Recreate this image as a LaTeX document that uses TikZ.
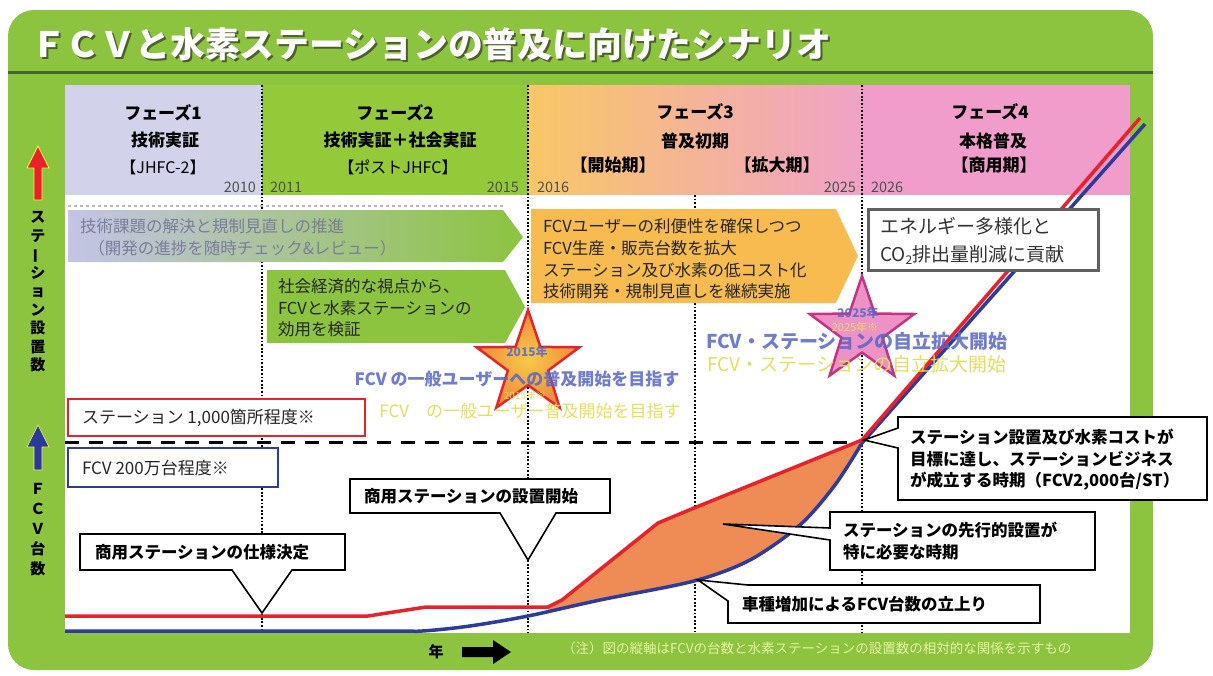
\documentclass[tikz,border=0pt]{standalone}
\usepackage{fontspec}
\usepackage{graphicx}
\setmainfont{Noto Sans CJK JP}
\usetikzlibrary{shapes.geometric}
\definecolor{bggreen}{HTML}{8CC43F}
\definecolor{ph2green}{HTML}{94C93A}
\definecolor{darkgreen}{HTML}{3F6A2C}
\definecolor{titleshadow}{HTML}{4E5E2E}
\definecolor{lav}{HTML}{D2D2EA}
\definecolor{lavarrow}{HTML}{C4C4E6}
\definecolor{ph3a}{HTML}{F8C766}
\definecolor{ph3b}{HTML}{F0A2C8}
\definecolor{ph4}{HTML}{F09DCB}
\definecolor{arrorange}{HTML}{F7BB4F}
\definecolor{redline}{HTML}{E8222B}
\definecolor{blueline}{HTML}{2E3A9C}
\definecolor{fillorange}{HTML}{EF8B55}
\definecolor{starblue}{HTML}{5666C8}
\definecolor{staryellow}{HTML}{E4E05C}
\definecolor{notegreen}{HTML}{E6F3A6}
\definecolor{graytext}{HTML}{7C7C9C}
\definecolor{yeargray}{HTML}{505050}
\definecolor{boxgray}{HTML}{606060}
\definecolor{starred}{HTML}{E3262A}
\definecolor{starin}{HTML}{F7C948}
\definecolor{starout}{HTML}{F08A3A}
\definecolor{starpink}{HTML}{EC92C6}
\definecolor{starmag}{HTML}{C43384}
\definecolor{axisblue}{HTML}{2A3A9A}
\begin{document}
\begin{tikzpicture}[x=1pt,y=-1pt,
  every node/.style={inner sep=0pt,outer sep=0pt},
  dotv/.style={black,line width=1.8pt,dash pattern=on 1.8pt off 1.8pt},
  callout/.style={draw=black,line width=1.6pt,fill=white,line join=miter},
  ctext/.style={font=\fontsize{16.5}{21.5}\selectfont\bfseries,align=left,anchor=west},
  phtext/.style={font=\fontsize{17}{20}\selectfont\bfseries},
  yeartext/.style={font=\fontsize{14.5}{16}\selectfont,text=yeargray},
  arrtext/.style={font=\fontsize{16.5}{21.6}\selectfont,align=left,anchor=west},
  vlabel/.style={font=\fontsize{15}{18.5}\selectfont\bfseries,align=center},
  bluestar/.style={font=\fontsize{17}{20}\selectfont\bfseries,text=starblue,text opacity=0.85},
  yellowstar/.style={font=\fontsize{17}{20}\selectfont,text=staryellow},
  curve/.style={line width=3.5pt,line join=round},
]
\useasboundingbox (0,0) rectangle (1213,675);
\fill[white] (0,0) rectangle (1213,675);
% green frame
\fill[bggreen,rounded corners=26pt] (8,10) rectangle (1153,670);
\draw[darkgreen,line width=3pt] (8,72) -- (1153,72);
% title
\node[anchor=west,text=titleshadow] (titlesh) at (33,46) {\resizebox{800pt}{!}{\fontsize{33}{33}\selectfont\bfseries ＦＣＶと水素ステーションの普及に向けたシナリオ}};
\node[anchor=west,text=white] (title) at (31,44) {\resizebox{800pt}{!}{\fontsize{33}{33}\selectfont\bfseries ＦＣＶと水素ステーションの普及に向けたシナリオ}};
% header band
\fill[lav] (65,85) rectangle (262,195);
\fill[ph2green] (262,85) rectangle (528,195);
\shade[left color=ph3a,right color=ph3b] (528,85) rectangle (862,195);
\fill[ph4] (862,85) rectangle (1130,195);
\fill[white] (65,195) rectangle (1130,633);
% phase texts
\node[phtext] (p1a) at (163,113) {フェーズ1};
\node[phtext] (p1b) at (165,140) {技術実証};
\node[phtext,font=\fontsize{16}{18}\selectfont] (p1c) at (163,167) {【JHFC-2】};
\node[phtext] (p2a) at (395,113) {フェーズ2};
\node[phtext] (p2b) at (400,140) {技術実証＋社会実証};
\node[phtext,font=\fontsize{16}{18}\selectfont] (p2c) at (398,167) {【ポストJHFC】};
\node[phtext] (p3a) at (695,112) {フェーズ3};
\node[phtext] (p3b) at (695,141) {普及初期};
\node[phtext] (p3c) at (613,165) {【開始期】};
\node[phtext] (p3d) at (777,165) {【拡大期】};
\node[phtext] (p4a) at (990,112) {フェーズ4};
\node[phtext] (p4b) at (993,141) {本格普及};
\node[phtext] (p4c) at (994,165) {【商用期】};
% years
\node[yeartext,anchor=east] (y2010) at (256,187) {2010};
\node[yeartext,anchor=west] (y2011) at (270,187) {2011};
\node[yeartext,anchor=east] (y2015) at (519,187) {2015};
\node[yeartext,anchor=west] (y2016) at (537,187) {2016};
\node[yeartext,anchor=east] (y2025) at (856,187) {2025};
\node[yeartext,anchor=west] (y2026) at (871,187) {2026};
% dotted verticals
\draw[dotv] (262,85) -- (262,633);
\draw[dotv] (528,85) -- (528,633);
\draw[dotv] (862,85) -- (862,633);
\draw[dotv] (695,195) -- (695,633);
% arrow 1
\draw[gray!55,dashed,line width=1.2pt] (68,206) -- (505,206);
\shade[left color=lavarrow,right color=bggreen] (68,210) -- (503,210) -- (523,237) -- (503,262) -- (68,262) -- cycle;
\node[arrtext,text=graytext] (a1) at (80,237.5) {技術課題の解決と規制見直しの推進\\\hspace{0.5em}（開発の進捗を随時チェック\&レビュー）};
% arrow 2
\fill[bggreen] (267,270) -- (505,270) -- (525,307) -- (505,343) -- (267,343) -- cycle;
\node[arrtext,text=black!85] (a2) at (278,308) {社会経済的な視点から、\\FCVと水素ステーションの\\効用を検証};
% arrow 3
\fill[arrorange] (531,209) -- (836,209) -- (858,256) -- (836,303) -- (531,303) -- cycle;
\node[arrtext,text=black!85] (a3) at (543,259) {FCVユーザーの利便性を確保しつつ\\FCV生産・販売台数を拡大\\ステーション及び水素の低コスト化\\技術開発・規制見直しを継続実施};
% stars
\node[star,star points=5,star point ratio=2.55,minimum size=108pt,inner color=starin,outer color=starout,draw=starred,line width=2.5pt] (star1) at (528,364) {};
\node[star,star points=5,star point ratio=2.55,minimum size=110pt,fill=starpink,draw=starmag,line width=2.5pt] (star2) at (862,331) {};
\node[bluestar,font=\fontsize{12}{14}\selectfont\bfseries] (s1yr) at (527,352) {2015年};
\node[bluestar] (s1txt) at (517,379) {FCV の一般ユーザーへの普及開始を目指す};
\node[yellowstar,font=\fontsize{10}{11}\selectfont] (s1yr2) at (525,396) {2015年※};
\node[yellowstar] (s1txt2) at (530,411) {FCV\quad の一般ユーザー普及開始を目指す};
\node[bluestar,font=\fontsize{12}{14}\selectfont\bfseries] (s2yr) at (858,313) {2025年};
\node[yellowstar,font=\fontsize{11}{12}\selectfont] (s2yr2) at (855,327) {2025年※};
% left limit boxes and dashed level
\draw[black,line width=3pt,dash pattern=on 14pt off 10pt] (65,442) -- (862,442);
\draw[redline,line width=2pt,fill=white] (68,399) rectangle (365,436);
\node[anchor=west,font=\fontsize{17}{20}\selectfont,text=black!85] (l1) at (82,418) {ステーション 1,000箇所程度※};
\draw[blueline,line width=1.6pt,fill=white] (68,448) rectangle (278,487);
\node[anchor=west,font=\fontsize{17}{20}\selectfont,text=black!85] (l2) at (82,468) {FCV 200万台程度※};
% curves
\fill[fillorange] (548,608) -- (562,600) -- (658,523) -- (694,508) -- (862,440) -- plot[smooth] coordinates {(862,443) (835,485) (800,525) (750,560) (694,581) (600,600) (548,612)} -- cycle;
\draw[blueline,curve] plot[smooth] coordinates {(65,631) (380,631) (422,631) (470,626) (528,616) (600,600) (694,581) (750,560) (800,525) (835,485) (862,443)} -- (1145,124);
\draw[redline,curve] (65,616) -- (368,616) -- (426,607) -- (548,607) -- (562,600) -- (658,523) -- (694,508) -- (862,440) -- (1140,118);
\node[bluestar,font=\fontsize{19}{22}\selectfont\bfseries] (s2txt) at (857,341) {FCV・ステーションの自立拡大開始};
\node[yellowstar,font=\fontsize{19}{22}\selectfont] (s2txt2) at (857,364) {FCV・ステーションの自立拡大開始};
% box 4 (above the curves)
\draw[boxgray,line width=3pt,fill=white] (868,209) rectangle (1098,270);
\node[arrtext,font=\fontsize{19}{28}\selectfont,text=black!80] (b4) at (880,241) {エネルギー多様化と\\CO\raisebox{-0.35ex}{\fontsize{12}{12}\selectfont 2}排出量削減に貢献};
% callouts
\draw[callout] (80,534) -- (345,534) -- (345,570) -- (292,570) -- (262,613) -- (232,570) -- (80,570) -- cycle;
\node[ctext] (c1) at (95,552) {商用ステーションの仕様決定};
\draw[callout] (350,479) -- (610,479) -- (610,513) -- (556,513) -- (528,560) -- (500,513) -- (350,513) -- cycle;
\node[ctext] (c2) at (364,496) {商用ステーションの設置開始};
\draw[callout] (830,512) -- (1095,512) -- (1095,570) -- (830,570) -- (830,540) -- (723,524) -- (830,528) -- cycle;
\node[ctext] (c3) at (843,541) {ステーションの先行的設置が\\特に必要な時期};
\draw[callout] (748,585) -- (1040,585) -- (1040,623) -- (728,623) -- (728,601) -- (698,580) -- cycle;
\node[ctext] (c4) at (742,604) {車種増加によるFCV台数の立上り};
\draw[callout] (898,417) -- (1207,417) -- (1207,500) -- (898,500) -- (898,448) -- (864,440) -- (898,428) -- cycle;
\node[ctext] (c5) at (910,460) {ステーション設置及び水素コストが\\目標に達し、ステーションビジネス\\が成立する時期（FCV2,000台/ST）};
% left axis labels
\fill[redline,draw=yellow!70,line width=0.8pt] (34,200) -- (34,168) -- (27,168) -- (38,146) -- (49,168) -- (42,168) -- (42,200) -- cycle;
\node[vlabel] (v1) at (38,292) {ス\\テ\\\rotatebox[origin=c]{90}{ー}\\シ\\ョ\\ン\\設\\置\\数};
\fill[axisblue,draw=yellow!60,line width=0.6pt] (34,470) -- (34,447) -- (27,447) -- (38,425) -- (49,447) -- (42,447) -- (42,470) -- cycle;
\node[vlabel,font=\fontsize{15}{20}\selectfont\bfseries] (v2) at (38,530) {Ｆ\\Ｃ\\Ｖ\\台\\数};
% bottom
\node[font=\fontsize{15}{16}\selectfont\bfseries] (nen) at (436,652) {年};
\fill[black] (462,647) -- (493,647) -- (493,640) -- (511,652) -- (493,664) -- (493,657) -- (462,657) -- cycle;
\node[anchor=west,font=\fontsize{13.5}{15}\selectfont,text=notegreen] (note) at (562,648) {（注）図の縦軸はFCVの台数と水素ステーションの設置数の相対的な関係を示すもの};
\end{tikzpicture}
\end{document}
